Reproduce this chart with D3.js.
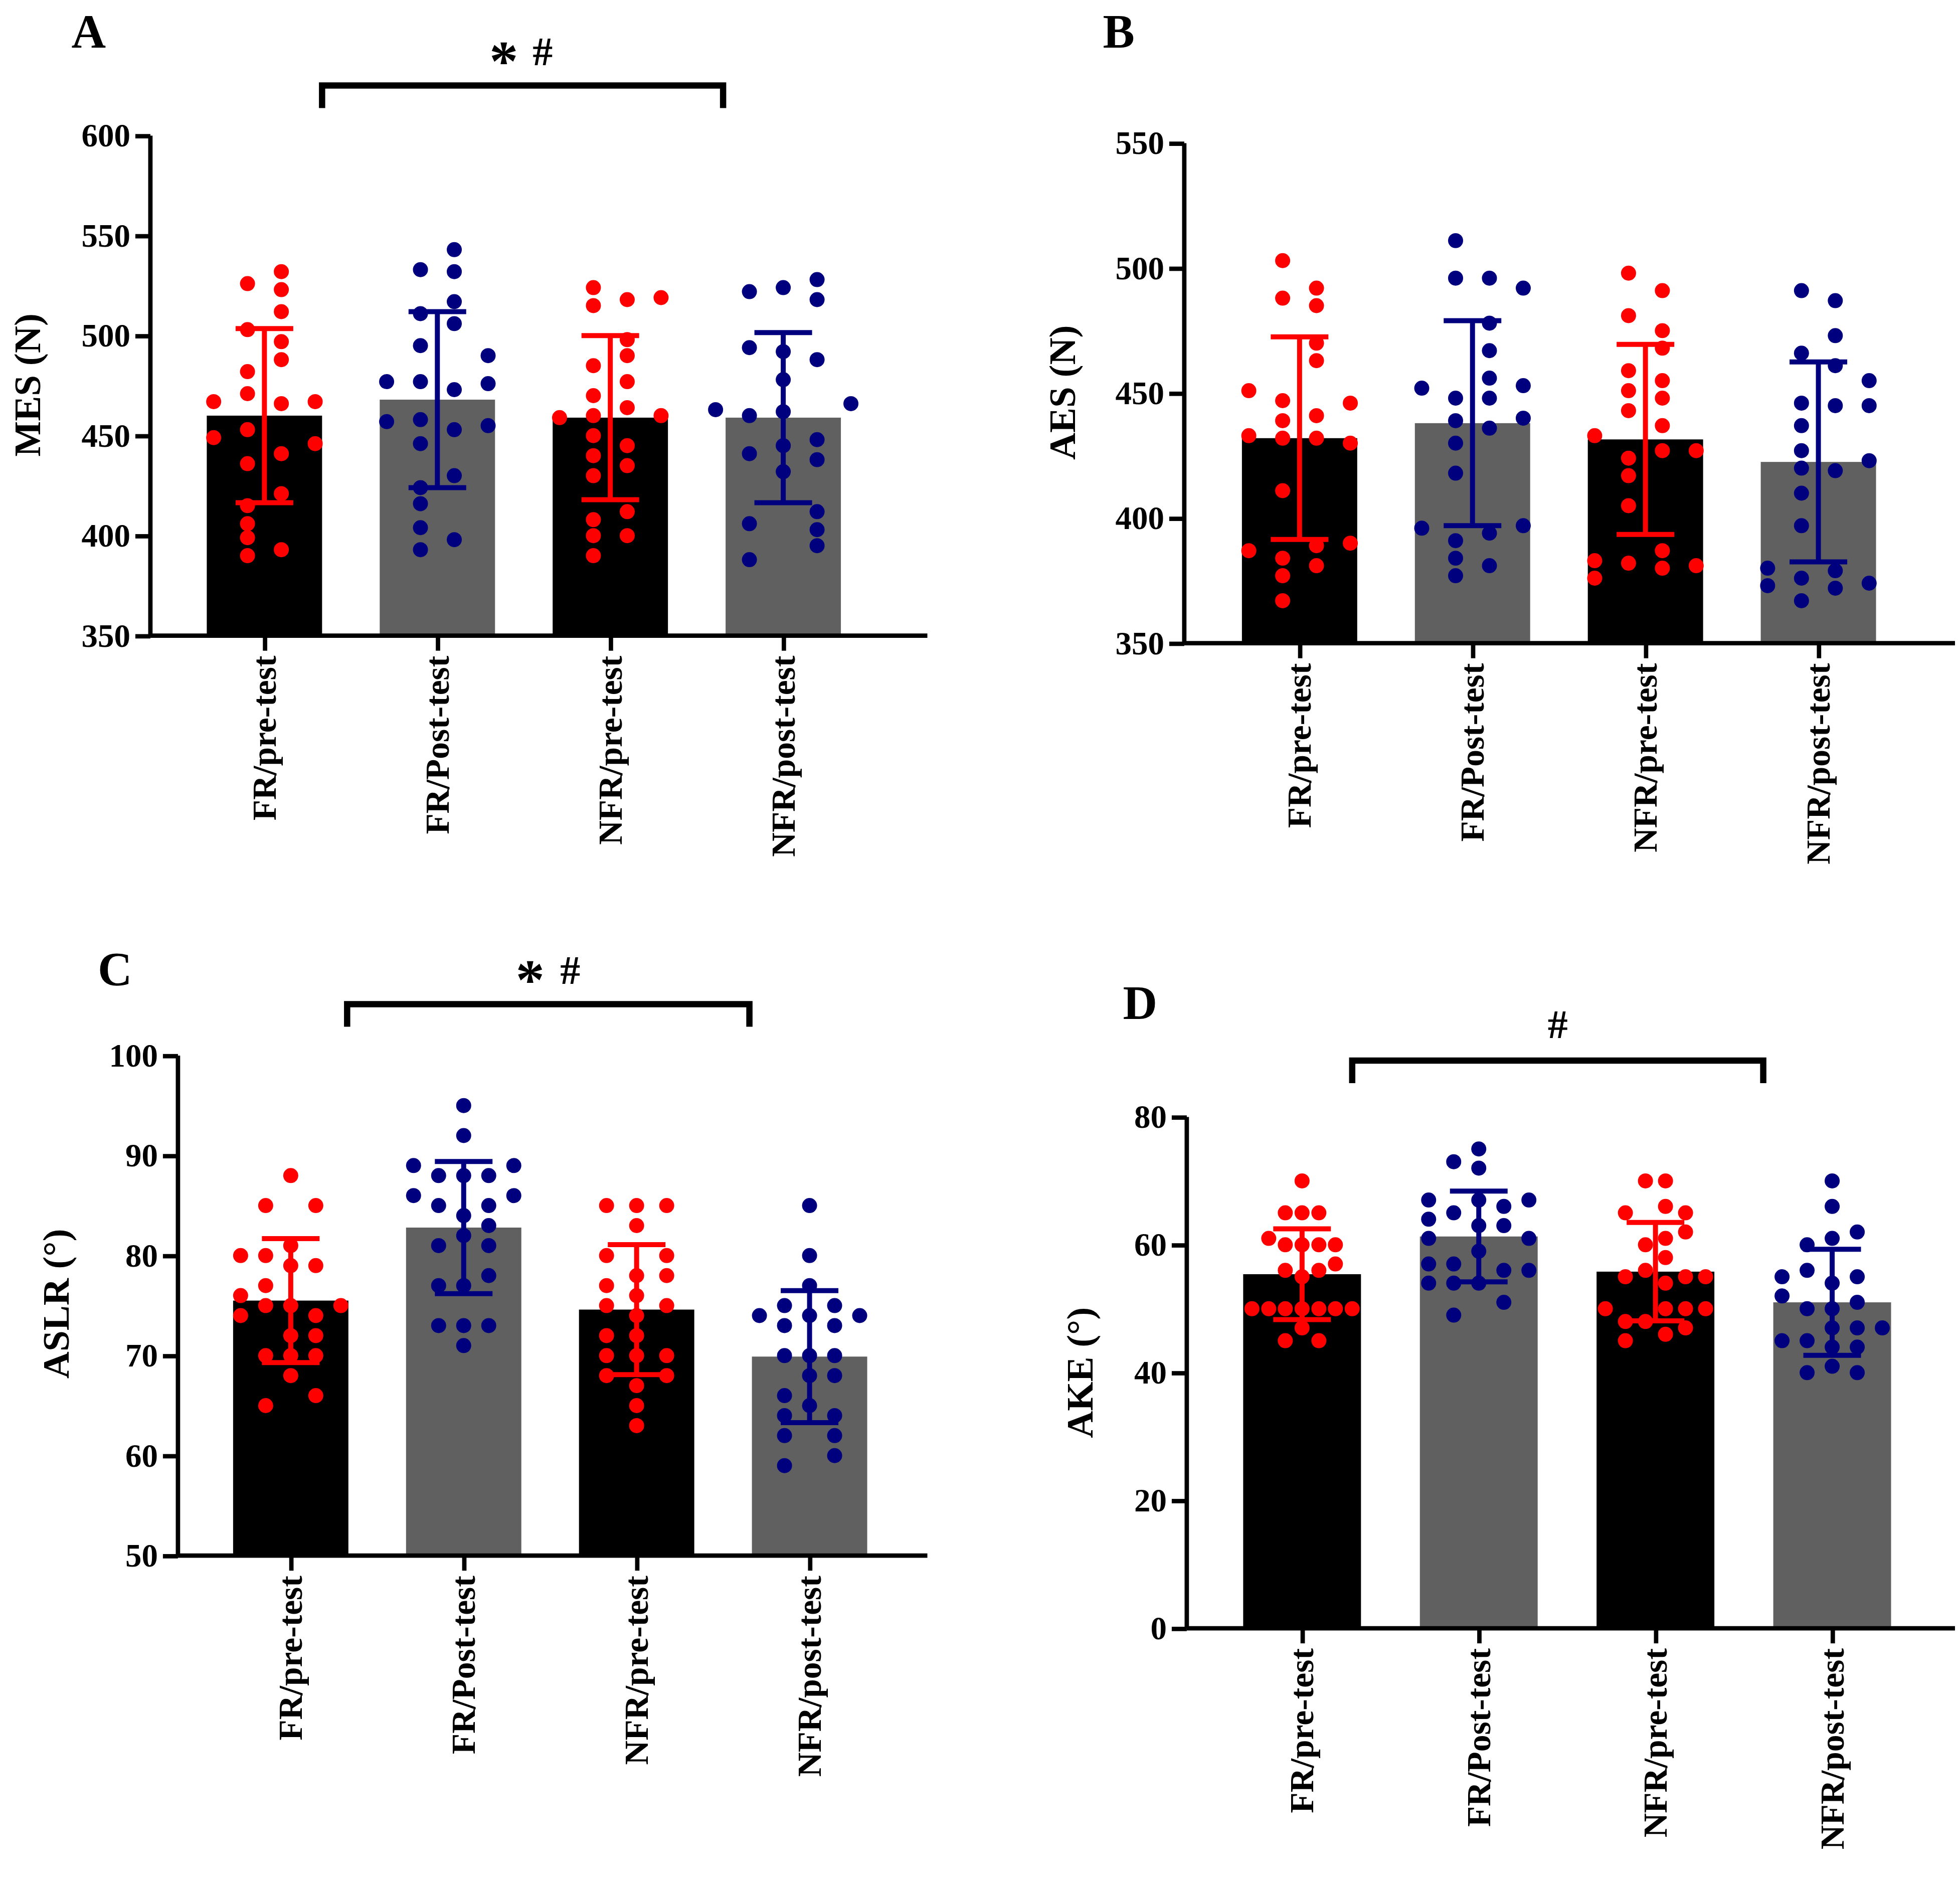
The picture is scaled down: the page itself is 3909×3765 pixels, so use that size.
<!doctype html>
<html>
<head>
<script src="https://d3js.org/d3.v7.min.js"></script>
<style>body{margin:0;background:#fff}text{font-family:"Liberation Serif","Times New Roman",serif;font-weight:bold}</style>
</head>
<body>
<svg id="fig"></svg>
<script>
// groups
const categories = ["FR/pre-test", "FR/Post-test", "NFR/pre-test", "NFR/post-test"];

// each point: [column offset, value]
const mesPoints = [
  [[-1.5,467],[-1.5,449],[-0.5,526],[-0.5,503],[-0.5,482],[-0.5,471],[-0.5,453],[-0.5,436],[-0.5,415],[-0.5,406],[-0.5,399],[-0.5,390],[0.5,532],[0.5,523],[0.5,512],[0.5,497],[0.5,488],[0.5,466],[0.5,441],[0.5,421],[0.5,393],[1.5,467],[1.5,446]],
  [[-1.5,477],[-1.5,457],[-0.5,533],[-0.5,511],[-0.5,495],[-0.5,477],[-0.5,458],[-0.5,446],[-0.5,424],[-0.5,416],[-0.5,404],[-0.5,393],[0.5,543],[0.5,532],[0.5,517],[0.5,506],[0.5,473],[0.5,453],[0.5,430],[0.5,398],[1.5,490],[1.5,476],[1.5,455]],
  [[-1.5,459],[-0.5,524],[-0.5,515],[-0.5,485],[-0.5,470],[-0.5,460],[-0.5,450],[-0.5,440],[-0.5,430],[-0.5,408],[-0.5,400],[-0.5,390],[0.5,518],[0.5,498],[0.5,490],[0.5,477],[0.5,464],[0.5,445],[0.5,435],[0.5,412],[0.5,400],[1.5,519],[1.5,460]],
  [[-2,463],[-1,522],[-1,494],[-1,460],[-1,441],[-1,406],[-1,388],[0,524],[0,492],[0,478],[0,462],[0,445],[0,432],[1,528],[1,518],[1,488],[1,448],[1,438],[1,412],[1,403],[1,395],[2,466]]
];
const mesMean = [460, 468, 459, 459];
const mesSd = [43.5, 44, 41, 42.5];

const aesPoints = [
  [[-1.5,451],[-1.5,433],[-1.5,387],[-0.5,503],[-0.5,488],[-0.5,447],[-0.5,439],[-0.5,432],[-0.5,411],[-0.5,384],[-0.5,377],[-0.5,367],[0.5,492],[0.5,485],[0.5,470],[0.5,463],[0.5,441],[0.5,432],[0.5,389],[0.5,381],[1.5,446],[1.5,430],[1.5,390]],
  [[-1.5,452],[-1.5,396],[-0.5,511],[-0.5,496],[-0.5,448],[-0.5,439],[-0.5,430],[-0.5,418],[-0.5,391],[-0.5,384],[-0.5,377],[0.5,496],[0.5,478],[0.5,467],[0.5,456],[0.5,448],[0.5,436],[0.5,394],[0.5,381],[1.5,492],[1.5,453],[1.5,440],[1.5,397]],
  [[-1.5,433],[-1.5,383],[-1.5,376],[-0.5,498],[-0.5,481],[-0.5,459],[-0.5,451],[-0.5,443],[-0.5,424],[-0.5,417],[-0.5,405],[-0.5,382],[0.5,491],[0.5,475],[0.5,468],[0.5,455],[0.5,448],[0.5,437],[0.5,427],[0.5,387],[0.5,380],[1.5,427],[1.5,381]],
  [[-1.5,380],[-1.5,373],[-0.5,491],[-0.5,466],[-0.5,446],[-0.5,437],[-0.5,427],[-0.5,420],[-0.5,410],[-0.5,397],[-0.5,376],[-0.5,367],[0.5,487],[0.5,473],[0.5,461],[0.5,445],[0.5,419],[0.5,379],[0.5,372],[1.5,455],[1.5,445],[1.5,423],[1.5,374]]
];
const aesMean = [432, 438, 431.5, 422.5];
const aesSd = [40.5, 41, 38, 40];

const aslrPoints = [
  [[-2,80],[-2,76],[-2,74],[-1,85],[-1,80],[-1,77],[-1,75],[-1,70],[-1,65],[0,88],[0,81],[0,79],[0,75],[0,72],[0,70],[0,68],[1,85],[1,79],[1,74],[1,72],[1,70],[1,66],[2,75]],
  [[-2,89],[-2,86],[-1,88],[-1,85],[-1,81],[-1,77],[-1,73],[0,95],[0,92],[0,88],[0,84],[0,82],[0,77],[0,73],[0,71],[1,88],[1,85],[1,83],[1,81],[1,78],[1,73],[2,89],[2,86]],
  [[-1.2,85],[-1.2,80],[-1.2,77],[-1.2,75],[-1.2,72],[-1.2,70],[-1.2,68],[0,85],[0,83],[0,78],[0,76],[0,74],[0,72],[0,70],[0,67],[0,65],[0,63],[1.2,85],[1.2,80],[1.2,78],[1.2,75],[1.2,70],[1.2,68]],
  [[-2,74],[-1,75],[-1,73],[-1,70],[-1,66],[-1,64],[-1,62],[-1,59],[0,85],[0,80],[0,77],[0,74],[0,70],[0,68],[0,65],[1,75],[1,73],[1,70],[1,68],[1,64],[1,62],[1,60],[2,74]]
];
const aslrMean = [75.5, 82.8, 74.6, 69.9];
const aslrSd = [6.2, 6.6, 6.5, 6.6];

const akePoints = [
  [[-2,50],[-1.33,61],[-1.33,50],[-0.67,65],[-0.67,60],[-0.67,56],[-0.67,50],[-0.67,45],[0,70],[0,65],[0,60],[0,55],[0,50],[0,47],[0.67,65],[0.67,60],[0.67,56],[0.67,50],[0.67,45],[1.33,60],[1.33,57],[1.33,50],[2,50]],
  [[-2,67],[-2,64],[-2,61],[-2,57],[-2,54],[-1,73],[-1,65],[-1,57],[-1,54],[-1,49],[0,75],[0,72],[0,67],[0,63],[0,59],[0,54],[1,66],[1,63],[1,56],[1,51],[2,67],[2,61],[2,56]],
  [[-2,50],[-1.2,65],[-1.2,55],[-1.2,48],[-1.2,45],[-0.4,70],[-0.4,60],[-0.4,56],[-0.4,48],[0.4,70],[0.4,66],[0.4,61],[0.4,58],[0.4,54],[0.4,50],[0.4,46],[1.2,65],[1.2,62],[1.2,55],[1.2,50],[1.2,47],[2,55],[2,50]],
  [[-2,55],[-2,52],[-2,45],[-1,60],[-1,56],[-1,50],[-1,45],[-1,40],[0,70],[0,66],[0,61],[0,54],[0,50],[0,47],[0,44],[0,41],[1,62],[1,55],[1,51],[1,47],[1,44],[1,40],[2,47]]
];
const akeMean = [55.4, 61.3, 55.8, 51.0];
const akeSd = [7.1, 7.1, 7.7, 8.3];

const W = 1564, H = 1506;
const svg = d3.select("#fig").attr("width", 3909).attr("height", 3765)
  .attr("viewBox", [0, 0, W, H]);

const barFill = ["#000000", "#606060", "#000000", "#606060"];
const dotFill = ["#ff0000", "#00007f", "#ff0000", "#00007f"];

const panels = [
  {letter: "A", lx: 57, ly: 38, title: "MES (N)", tx: 22, ty: 307, pts: mesPoints, mean: mesMean, sd: mesSd,
   x0: 120, x1: 740, c0: 211, c1: 625, yTop: 108, yBot: 507, domain: [350, 600], step: 50, col: 27, bw: 92,
   sig: {a: 257, b: 577, y: 68, txt: ["*", "#"], tx: [402, 433], tyy: 52}},
  {letter: "B", lx: 880, ly: 38, title: "AES (N)", tx: 848, ty: 313, pts: aesPoints, mean: aesMean, sd: aesSd,
   x0: 945, x1: 1560, c0: 1037, c1: 1451, yTop: 114, yBot: 513, domain: [350, 550], step: 50, col: 27, bw: 92},
  {letter: "C", lx: 78, ly: 786, title: "ASLR (°)", tx: 45, ty: 1040, pts: aslrPoints, mean: aslrMean, sd: aslrSd,
   x0: 142, x1: 740, c0: 232, c1: 646, yTop: 842, yBot: 1241, domain: [50, 100], step: 10, col: 20, bw: 92,
   sig: {a: 277, b: 598, y: 801, txt: ["*", "#"], tx: [423, 455], tyy: 785}},
  {letter: "D", lx: 896, ly: 813, title: "AKE (°)", tx: 862, ty: 1095, pts: akePoints, mean: akeMean, sd: akeSd,
   x0: 947, x1: 1560, c0: 1039, c1: 1462, yTop: 891, yBot: 1299, domain: [0, 80], step: 20, col: 20, bw: 94,
   sig: {a: 1079, b: 1407, y: 846, txt: ["#"], tx: [1243], tyy: 828}}
];

panels.forEach(p => {
  const g = svg.append("g");
  const x = d3.scalePoint().domain(categories).range([p.c0, p.c1]);
  const y = d3.scaleLinear().domain(p.domain).range([p.yBot, p.yTop]);

  // bars
  g.selectAll("rect.bar").data(p.mean).join("rect")
    .attr("x", (d, i) => x(categories[i]) - p.bw / 2)
    .attr("width", p.bw)
    .attr("y", d => y(d))
    .attr("height", d => p.yBot - y(d))
    .attr("fill", (d, i) => barFill[i]);

  // dots
  p.pts.forEach((grp, i) => {
    g.selectAll(null).data(grp).join("circle")
      .attr("cx", d => x(categories[i]) + d[0] * p.col)
      .attr("cy", d => y(d[1]))
      .attr("r", 6)
      .attr("fill", dotFill[i]);
  });

  // error bars
  p.mean.forEach((m, i) => {
    const cx = x(categories[i]), s = p.sd[i];
    const e = g.append("g").attr("stroke", dotFill[i]).attr("stroke-width", 4);
    e.append("line").attr("x1", cx).attr("x2", cx).attr("y1", y(m + s)).attr("y2", y(m - s));
    [m + s, m - s].forEach(v => e.append("line")
      .attr("x1", cx - 23).attr("x2", cx + 23).attr("y1", y(v)).attr("y2", y(v)));
  });

  // y axis
  const ya = g.append("g").attr("transform", `translate(${p.x0},0)`)
    .call(d3.axisLeft(y).tickValues(d3.range(p.domain[0], p.domain[1] + 1, p.step)).tickSize(12).tickPadding(4).tickSizeOuter(0));
  ya.selectAll("path,line").attr("stroke", "#000").attr("stroke-width", 3.5);
  ya.selectAll("text").attr("font-size", 26).attr("font-family", "Liberation Serif").attr("font-weight", "bold").attr("fill", "#000");
  ya.select(".domain").attr("d", `M0,${p.yTop}V${p.yBot}`);

  // x axis
  const xa = g.append("g").attr("transform", `translate(0,${p.yBot})`)
    .call(d3.axisBottom(x).tickSize(12).tickSizeOuter(0).tickFormat(""));
  xa.select(".domain").attr("d", `M${p.x0},0H${p.x1}`);
  xa.selectAll("path,line").attr("stroke", "#000").attr("stroke-width", 3.5);
  g.selectAll("text.cat").data(categories).join("text")
    .attr("transform", d => `translate(${x(d) + 9},${p.yBot + 16}) rotate(-90)`)
    .attr("text-anchor", "end").attr("font-size", 27).text(d => d);

  // titles
  g.append("text").attr("transform", `translate(${p.tx + 10},${p.ty}) rotate(-90)`)
    .attr("text-anchor", "middle").attr("font-size", 30).text(p.title);
  g.append("text").attr("x", p.lx).attr("y", p.ly).attr("font-size", 38).text(p.letter);

  // significance bracket
  if (p.sig) {
    const s = p.sig;
    g.append("path").attr("d", `M${s.a},${s.y + 18}V${s.y}H${s.b}V${s.y + 18}`)
      .attr("fill", "none").attr("stroke", "#000").attr("stroke-width", 5);
    s.txt.forEach((t, k) => g.append("text").attr("x", s.tx[k]).attr("y", s.tyy + (t === "*" ? 12 : 0))
      .attr("text-anchor", "middle").attr("font-size", t === "*" ? 46 : 32).text(t));
  }
});
</script>
</body>
</html>
